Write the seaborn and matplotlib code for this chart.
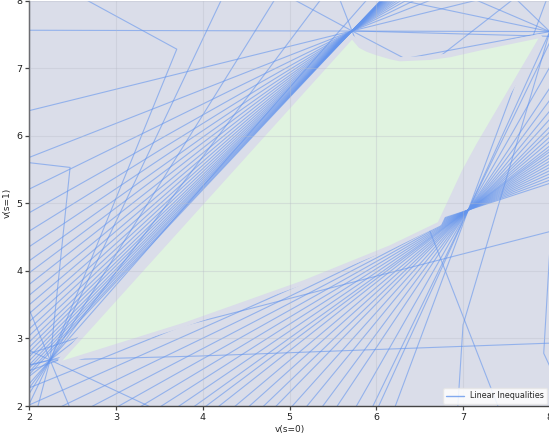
import numpy as np
import pandas as pd
import matplotlib
matplotlib.use("Agg")
import matplotlib.pyplot as plt
import seaborn as sns
from matplotlib.patches import Polygon
from matplotlib.lines import Line2D

# Value functions of the deterministic policies; the inequality lines pivot on them
pivot_a = (2.24, 2.68)
pivot_b = (5.72, 7.55)
pivot_c = (7.06, 4.90)
pivot_d = (8.00, 7.54)

# Slopes of the inequality lines passing through each pivot
slopes_a = [1.00, 1.46, 1.71, 2.06, 2.70, 0.33, -0.60, -3.10]
slopes_b = [0.317, 0.503, 0.629, 0.723, 0.796, 0.858, 0.914, 0.962, 1.008,
            1.051, 1.089, 1.124, 1.156, 1.185, 1.212, 1.237, 1.258, 1.277,
            1.296, 1.312, 1.328, 1.341, 1.355, 1.366, -3.3]
slopes_c = [0.42, 0.47, 0.52, 0.57, 0.62, 0.67, 0.72, 0.77, 0.82, 0.87,
            0.92, 0.96, 1.01, 1.08, 1.15, 1.23, 1.31, 1.43, 1.56, 1.73,
            1.92, 2.25, 2.64, 2.81, 3.45]
slopes_d = [-0.27, -0.55, -1.24]

# Inequality lines with a bend
bent_x = [
    [2.67, 3.70, 2.24, 2.10],
    [2.00, 2.47, 2.24],
    [2.00, 2.24, 3.97, 8.00],
    [8.00, 7.00, 6.94],
    [8.05, 7.93, 8.05],
    [5.07, 5.72, 6.33, 8.00],
    [2.00, 8.00],
    [5.72, 8.00],
]
bent_y = [
    [8.00, 7.28, 2.68, 2.00],
    [5.60, 5.53, 2.68],
    [2.61, 2.68, 2.74, 2.93],
    [7.54, 3.20, 2.00],
    [5.40, 2.78, 2.45],
    [8.00, 7.55, 7.14, 7.54],
    [7.56, 7.54],
    [7.55, 7.47],
]

# Outline of the feasible (green) region
region_x = [2.38, 3.80, 5.16, 6.16, 6.71, 6.99, 7.16, 7.87, 7.23, 6.85,
            6.62, 6.27, 6.16, 6.00, 5.89, 5.80, 5.72]
region_y = [2.67, 3.24, 3.86, 4.38, 4.72, 5.49, 5.89, 7.44, 7.27, 7.16,
            7.12, 7.10, 7.13, 7.19, 7.24, 7.30, 7.42]

xticks = [2, 3, 4, 5, 6, 7, 8]
yticks = [2, 3, 4, 5, 6, 7, 8]

bg_color = "#dadde9"
region_color = "#e0f3e0"
line_color = "#6495ed"

rows = []
line_id = 0
for (px, py), slopes in [(pivot_a, slopes_a), (pivot_b, slopes_b),
                         (pivot_c, slopes_c), (pivot_d, slopes_d)]:
    for s in slopes:
        d = np.array([1.0, s]) / np.hypot(1.0, s)
        for t in (-20.0, 20.0):
            rows.append((line_id, px + t * d[0], py + t * d[1]))
        line_id += 1
for xs, ys in zip(bent_x, bent_y):
    for x, y in zip(xs, ys):
        rows.append((line_id, x, y))
    line_id += 1
df = pd.DataFrame(rows, columns=["line", "x", "y"])

sns.set_theme(style="white")
plt.rcParams["font.family"] = ["DejaVu Sans"]

fig = plt.figure(figsize=(5.49, 4.37), dpi=100)
ax = fig.add_axes([29.3 / 549, 31 / 437, 520.5 / 549, 405.5 / 437])
ax.set_facecolor(bg_color)

sns.lineplot(data=df, x="x", y="y", units="line", estimator=None, sort=False,
             color=line_color, linewidth=0.8, alpha=0.6, ax=ax, zorder=2)

outline = np.column_stack([region_x, region_y])
# clear margin around the feasible region
ax.add_patch(Polygon(outline, closed=True, facecolor=bg_color,
                     edgecolor=bg_color, linewidth=6, joinstyle="round",
                     zorder=2.1))
ax.add_patch(Polygon(outline, closed=True, facecolor=region_color,
                     edgecolor="none", zorder=2.2))

ax.set_xlim(2, 8)
ax.set_ylim(2, 8)
ax.set_xticks(xticks)
ax.set_yticks(yticks)
ax.set_axisbelow(False)
ax.grid(True, color="#b8bcc8", alpha=0.35, linewidth=0.8)
for side in ("top", "right"):
    ax.spines[side].set_visible(False)
for side in ("left", "bottom"):
    ax.spines[side].set_color("#444444")
    ax.spines[side].set_linewidth(1.0)
ax.tick_params(axis="both", which="both", length=3, width=0.9, color="#444444",
               labelsize=6.8, labelcolor="#222222", pad=2, left=True, bottom=True)
ax.set_xlabel("v(s=0)", fontsize=6.5, labelpad=2)
ax.set_ylabel("v(s=1)", fontsize=6.5, labelpad=3)

handle = Line2D([], [], color=line_color, alpha=0.8, linewidth=1.0)
leg = ax.legend([handle], ["Linear Inequalities"], loc="lower right",
                fontsize=5.8, frameon=True, framealpha=0.85, borderpad=0.4,
                handlelength=2.2, borderaxespad=0.3)
leg.get_frame().set_edgecolor("#e6e6e6")
leg.get_frame().set_facecolor("white")
leg.set_zorder(5)

fig.savefig("out.png", dpi=100)
